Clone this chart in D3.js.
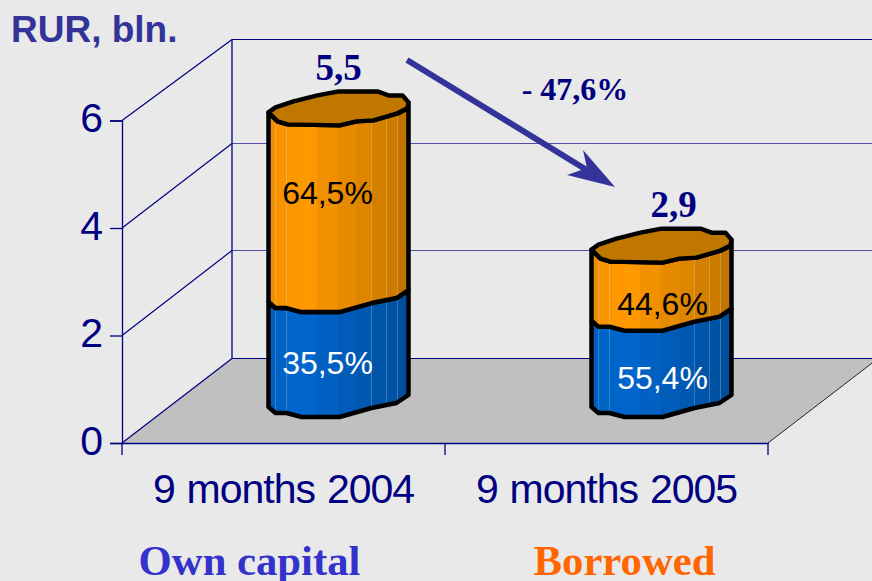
<!DOCTYPE html>
<html>
<head>
<meta charset="utf-8">
<script src="https://d3js.org/d3.v7.min.js"></script>
<style>
  html, body { margin: 0; padding: 0; background: #e9e9e9; }
  svg { display: block; }
</style>
</head>
<body>
<div id="chart"></div>
<script>
// data
const categories = ["9 months 2004", "9 months 2005"];
const totals = [5.5, 2.9];
const ownShare = [35.5, 55.4];
const borrowedShare = [64.5, 44.6];
const yTicks = [0, 2, 4, 6];
const changeLabel = "- 47,6%";

const width = 872, height = 581;

// the 3d box: how far the back wall is shifted from the front plane
const depthX = 110, depthY = -85;

const svg = d3.select("#chart").append("svg")
  .attr("width", width)
  .attr("height", height);

const x = d3.scaleBand().domain(categories).range([122, 768]);
const y = d3.scaleLinear().domain([0, 6]).range([443, 120.5]);
// the back wall is not quite a plain shift of the front plane
const yBack = d3.scaleLinear().domain(yTicks).range([358.5, 250.5, 143.5, 39.5]);

const sans = "'Liberation Sans', Arial, sans-serif";
const serif = "'Liberation Serif', 'Times New Roman', serif";
const navy = "#000080";

// project a value on the front plane back by a fraction of the depth
const px = (left, d) => left + depthX * d;
const py = (v, d) => y(v) + depthY * d;

const x0 = x.range()[0], x1 = x.range()[1];

// floor
svg.append("polygon")
  .attr("fill", "#c0c0c0")
  .attr("points", [
    [x0, y(0)], [px(x0, 1), yBack(0)], [px(x1, 1), yBack(0)], [x1, y(0)]
  ].join(" "));

// back wall grid
const grid = svg.append("g").attr("stroke", navy).attr("fill", "none");
yTicks.forEach(t => {
  grid.append("line")
    .attr("x1", x0).attr("y1", y(t))
    .attr("x2", px(x0, 1)).attr("y2", yBack(t))
    .attr("stroke-width", 1.2);
  grid.append("line")
    .attr("x1", px(x0, 1)).attr("y1", yBack(t))
    .attr("x2", px(x1, 1)).attr("y2", yBack(t))
    .attr("stroke-opacity", (t === 0 || t === 6) ? 1 : 0.65);
});
grid.append("line")
  .attr("x1", px(x0, 1)).attr("y1", yBack(0))
  .attr("x2", px(x0, 1)).attr("y2", yBack(6))
  .attr("stroke-width", 1.3);
grid.append("line")
  .attr("x1", x1).attr("y1", y(0))
  .attr("x2", px(x1, 1)).attr("y2", yBack(0))
  .attr("stroke", "#222");

// axes
const yAxis = svg.append("g")
  .attr("transform", `translate(${x0},0)`)
  .call(d3.axisLeft(y).tickValues(yTicks).tickFormat(d3.format("d")).tickSize(12).tickPadding(7));
const xAxis = svg.append("g")
  .attr("transform", `translate(0,${y(0)})`)
  .call(d3.axisBottom(x).tickSize(0).tickPadding(31));
[yAxis, xAxis].forEach(a => {
  a.select(".domain").attr("stroke", navy).attr("stroke-width", 1.3);
  a.selectAll("line").attr("stroke", navy).attr("stroke-width", 1.3);
  a.selectAll("text")
    .attr("fill", navy)
    .style("font-family", sans)
    .style("font-size", "41px");
});
yAxis.selectAll("text").attr("dy", "0.28em");
xAxis.selectAll("text").style("letter-spacing", "-1px").style("word-spacing", "1.5px");
xAxis.selectAll(".edge")
  .data([x0, x0 + x.step(), x1])
  .enter().append("line")
  .attr("class", "edge")
  .attr("x1", d => d).attr("x2", d => d)
  .attr("y1", 0).attr("y2", 12)
  .attr("stroke", navy).attr("stroke-width", 1.3);

// cross section of a bar, measured from the centre of its ring
const backArc = [[-70, 7.5], [-63, 2.5], [-45, -3.5], [-21, -9.5], [0, -13.5], [39, -13.5], [50, -9.5], [64, -9.5], [70, -2.5]];
const capFront = [[70, -2.5], [69, 3.5], [59, 8.5], [35, 15.5], [18, 16.5], [1, 20.5], [-51, 19.5], [-61, 16.5], [-70, 7.5]];
const sideFront = [[-70, 6.5], [-63, 12.5], [-52, 12.5], [-37, 16.5], [1, 16.5], [33, 7.5], [58, 2.5], [70, -5.5]];

// the flat faces of the round bar and how dark each one is
const facetEdges = [-71, -63, -52, -37, -22, -1, 18, 33, 48, 59, 68, 71];
const facetShade = [0.07, 0.03, 0.01, 0, 0.05, 0.1, 0.13, 0.17, 0.2, 0.24, 0.28];
const seamFacets = [1, 2, 7, 8, 9];

const ringLine = d3.line();
const shift = (pts, cx, cy) => pts.map(p => [cx + p[0], cy + p[1]]);

function drawSegment(g, cx, loY, hiY, topArc, colour, id) {
  const outline = ringLine([
    ...shift(topArc, cx, hiY),
    ...shift(sideFront.slice().reverse(), cx, loY)
  ]) + "Z";

  g.append("clipPath").attr("id", id).append("path").attr("d", outline);
  const body = g.append("g").attr("clip-path", `url(#${id})`);
  const dark = d3.interpolateRgb(colour, "#000");
  body.selectAll("rect")
    .data(facetShade)
    .enter().append("rect")
    .attr("x", (d, i) => cx + facetEdges[i])
    .attr("width", (d, i) => facetEdges[i + 1] - facetEdges[i] + 0.5)
    .attr("y", hiY - 30)
    .attr("height", loY - hiY + 60)
    .attr("fill", d => dark(d));
  body.selectAll("line")
    .data(seamFacets)
    .enter().append("line")
    .attr("x1", d => cx + facetEdges[d]).attr("x2", d => cx + facetEdges[d])
    .attr("y1", hiY - 30).attr("y2", loY + 30)
    .attr("stroke", "#fff").attr("stroke-opacity", 0.22);
  g.append("path")
    .attr("d", outline)
    .attr("fill", "none")
    .attr("stroke", "#000")
    .attr("stroke-width", 4.5)
    .attr("stroke-linejoin", "round");
}

// placement inside and above the bars, as moved by hand on the original slide
const labelX = [-11, 1];
const ownLabelY = [15, 21];
const borrowedLabelY = [-7, 25];
const totalX = [0, 12];
const capLift = [0, -2.5];

categories.forEach((c, i) => {
  const cx = px(x(c) + x.bandwidth() / 2, 0.5);
  const own = totals[i] * ownShare[i] / 100;
  const g = svg.append("g");
  const baseY = py(0, 0.5), midY = py(own, 0.5), topY = py(totals[i], 0.5) + capLift[i];

  drawSegment(g, cx, baseY, midY, sideFront, "#0066cc", `own${i}`);
  drawSegment(g, cx, midY, topY, capFront.slice().reverse(), "#ff9900", `bor${i}`);

  // top of the bar
  g.append("path")
    .attr("d", ringLine(shift([...backArc, ...capFront.slice(1)], cx, topY)) + "Z")
    .attr("fill", "#bf7700")
    .attr("stroke", "#000")
    .attr("stroke-width", 4.5)
    .attr("stroke-linejoin", "round");

  const pct = v => String(v).replace(".", ",") + "%";
  g.append("text")
    .attr("x", cx + labelX[i])
    .attr("y", py(own / 2, 0.5) + ownLabelY[i] + 11)
    .attr("text-anchor", "middle")
    .attr("fill", "#fff")
    .style("font-family", sans).style("font-size", "32px")
    .text(pct(ownShare[i]));
  g.append("text")
    .attr("x", cx + labelX[i])
    .attr("y", py((own + totals[i]) / 2, 0.5) + borrowedLabelY[i] + 11)
    .attr("text-anchor", "middle")
    .attr("fill", "#000")
    .style("font-family", sans).style("font-size", "32px")
    .text(pct(borrowedShare[i]));

  // total above the bar
  g.append("text")
    .attr("x", cx + totalX[i])
    .attr("y", topY - 25)
    .attr("text-anchor", "middle")
    .attr("fill", navy)
    .style("font-family", serif).style("font-weight", "bold").style("font-size", "37px")
    .text(String(totals[i]).replace(".", ","));
});

// arrow between the bars
const arrowFrom = [407, 60], arrowTo = [615, 187];
svg.append("line")
  .attr("x1", arrowFrom[0]).attr("y1", arrowFrom[1])
  .attr("x2", arrowTo[0] - 25).attr("y2", arrowTo[1] - 15)
  .attr("stroke", "#333399")
  .attr("stroke-width", 6);
svg.append("polygon")
  .attr("fill", "#333399")
  .attr("points", [arrowTo, [567, 175], [587, 168], [583, 150]].join(" "));

// headings
svg.append("text").attr("x", 11).attr("y", 42)
  .attr("fill", "#333399")
  .style("font-family", sans).style("font-weight", "bold").style("font-size", "37px")
  .text("RUR, bln.");
svg.append("text").attr("x", 575).attr("y", 100)
  .attr("text-anchor", "middle")
  .attr("fill", navy)
  .style("font-family", serif).style("font-weight", "bold").style("font-size", "32px")
  .text(changeLabel);
svg.append("text").attr("x", 249.5).attr("y", 575)
  .attr("text-anchor", "middle")
  .attr("fill", "#3333cc")
  .style("font-family", serif).style("font-weight", "bold").style("font-size", "42.7px")
  .text("Own capital");
svg.append("text").attr("x", 624.5).attr("y", 575)
  .attr("text-anchor", "middle")
  .attr("fill", "#ff6600")
  .style("font-family", serif).style("font-weight", "bold").style("font-size", "42.7px")
  .text("Borrowed");
</script>
</body>
</html>
